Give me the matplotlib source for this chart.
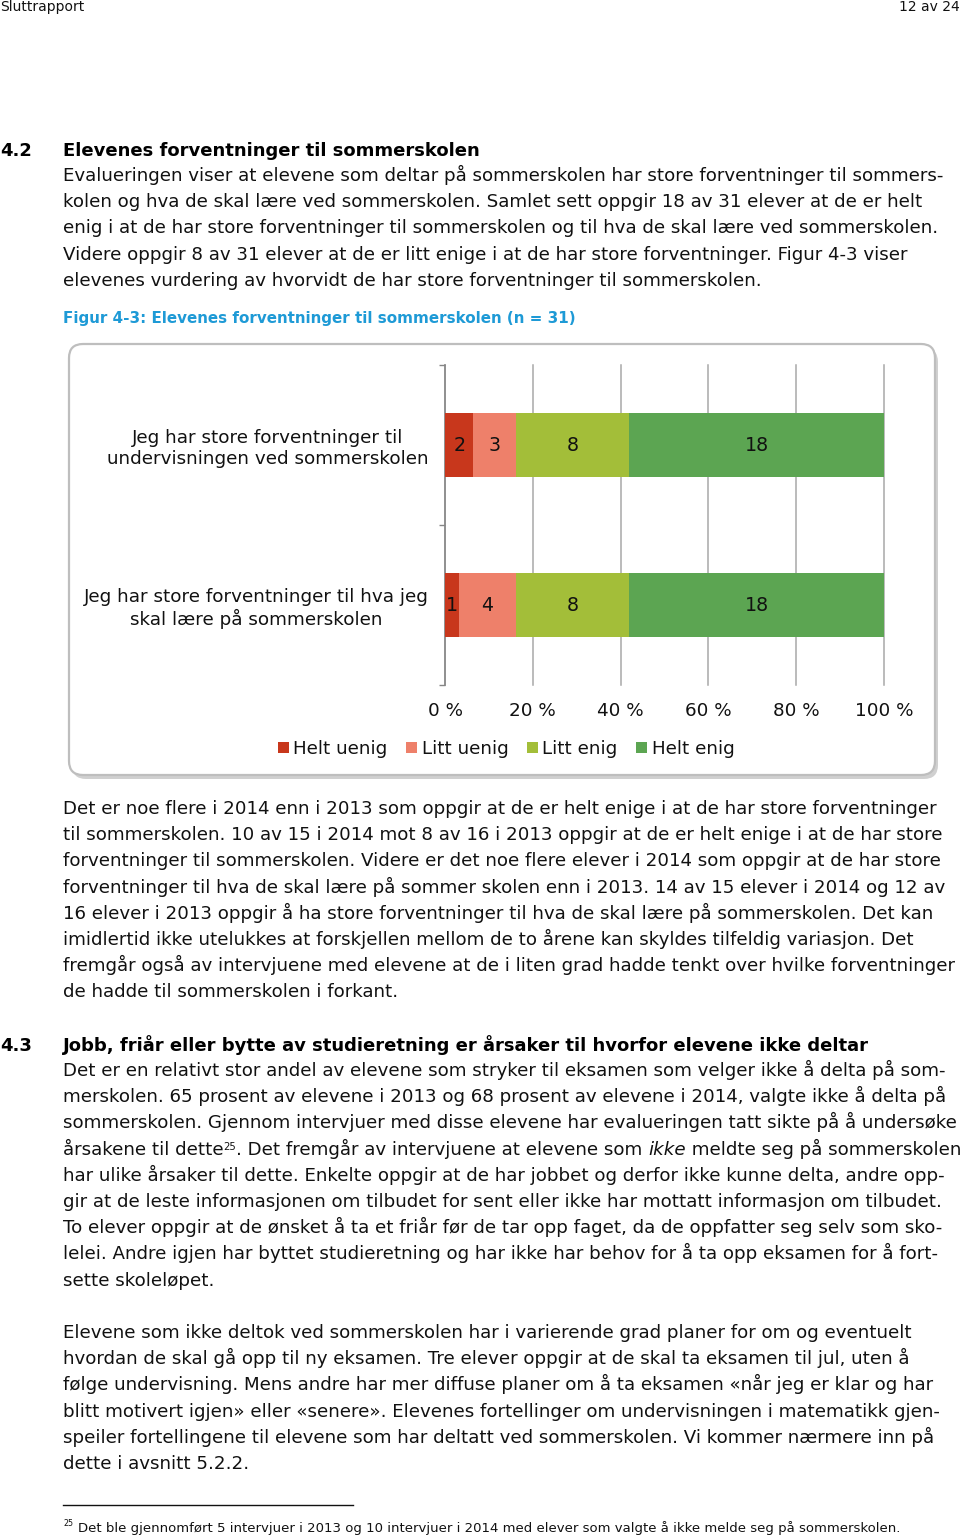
import numpy as np
import matplotlib.pyplot as plt
from matplotlib.patches import FancyBboxPatch

# --- chart data ---
categories = ['Jeg har store forventninger til\nundervisningen ved sommerskolen',
              'Jeg har store forventninger til hva jeg\nskal lære på sommerskolen']
series = ['Helt uenig', 'Litt uenig', 'Litt enig', 'Helt enig']
helt_uenig = [2, 1]
litt_uenig = [3, 4]
litt_enig = [8, 8]
helt_enig = [18, 18]
colors = ['#C8371C', '#EE806A', '#A3BE39', '#5CA552']
xticks = [0, 20, 40, 60, 80, 100]
xlabels = ['0 %', '20 %', '40 %', '60 %', '80 %', '100 %']

# --- page text ---
header_left = 'Sluttrapport'
header_right = '12 av 24'
h42 = ('4.2', 'Elevenes forventninger til sommerskolen')
para1 = [
    'Evalueringen viser at elevene som deltar på sommerskolen har store forventninger til sommers-',
    'kolen og hva de skal lære ved sommerskolen. Samlet sett oppgir 18 av 31 elever at de er helt',
    'enig i at de har store forventninger til sommerskolen og til hva de skal lære ved sommerskolen.',
    'Videre oppgir 8 av 31 elever at de er litt enige i at de har store forventninger. Figur 4-3 viser',
    'elevenes vurdering av hvorvidt de har store forventninger til sommerskolen.',
]
caption = 'Figur 4-3: Elevenes forventninger til sommerskolen (n = 31)'
para2 = [
    'Det er noe flere i 2014 enn i 2013 som oppgir at de er helt enige i at de har store forventninger',
    'til sommerskolen. 10 av 15 i 2014 mot 8 av 16 i 2013 oppgir at de er helt enige i at de har store',
    'forventninger til sommerskolen. Videre er det noe flere elever i 2014 som oppgir at de har store',
    'forventninger til hva de skal lære på sommer skolen enn i 2013. 14 av 15 elever i 2014 og 12 av',
    '16 elever i 2013 oppgir å ha store forventninger til hva de skal lære på sommerskolen. Det kan',
    'imidlertid ikke utelukkes at forskjellen mellom de to årene kan skyldes tilfeldig variasjon. Det',
    'fremgår også av intervjuene med elevene at de i liten grad hadde tenkt over hvilke forventninger',
    'de hadde til sommerskolen i forkant.',
]
h43 = ('4.3', 'Jobb, friår eller bytte av studieretning er årsaker til hvorfor elevene ikke deltar')
para3 = [
    'Det er en relativt stor andel av elevene som stryker til eksamen som velger ikke å delta på som-',
    'merskolen. 65 prosent av elevene i 2013 og 68 prosent av elevene i 2014, valgte ikke å delta på',
    'sommerskolen. Gjennom intervjuer med disse elevene har evalueringen tatt sikte på å undersøke',
    None,
    'har ulike årsaker til dette. Enkelte oppgir at de har jobbet og derfor ikke kunne delta, andre opp-',
    'gir at de leste informasjonen om tilbudet for sent eller ikke har mottatt informasjon om tilbudet.',
    'To elever oppgir at de ønsket å ta et friår før de tar opp faget, da de oppfatter seg selv som sko-',
    'lelei. Andre igjen har byttet studieretning og har ikke har behov for å ta opp eksamen for å fort-',
    'sette skoleløpet.',
]
para3_mixed = [('årsakene til dette', 'n'), ('25', 's'),
               ('. Det fremgår av intervjuene at elevene som ', 'n'),
               ('ikke', 'i'), (' meldte seg på sommerskolen', 'n')]
para4 = [
    'Elevene som ikke deltok ved sommerskolen har i varierende grad planer for om og eventuelt',
    'hvordan de skal gå opp til ny eksamen. Tre elever oppgir at de skal ta eksamen til jul, uten å',
    'følge undervisning. Mens andre har mer diffuse planer om å ta eksamen «når jeg er klar og har',
    'blitt motivert igjen» eller «senere». Elevenes fortellinger om undervisningen i matematikk gjen-',
    'speiler fortellingene til elevene som har deltatt ved sommerskolen. Vi kommer nærmere inn på',
    'dette i avsnitt 5.2.2.',
]
footnote = 'Det ble gjennomført 5 intervjuer i 2013 og 10 intervjuer i 2014 med elever som valgte å ikke melde seg på sommerskolen.'

W, H = 960, 1537
fig = plt.figure(figsize=(W / 100, H / 100), dpi=100)
bg = fig.add_axes([0, 0, 1, 1])
bg.set_xlim(0, W)
bg.set_ylim(H, 0)
bg.axis('off')
r = fig.canvas.get_renderer()

plt.rcParams['font.family'] = 'DejaVu Sans'


def fit_size(text, target, weight='normal', base=10.0):
    t = bg.text(0, 100, text, fontsize=base, fontweight=weight)
    w = t.get_window_extent(renderer=r).width
    t.remove()
    return base * target / w


fs_body = fit_size(para1[0], 882)
fs_head = fit_size(h42[1], 418, 'bold')
fs_cap = fit_size(caption, 515, 'bold')
fs_foot = fit_size(footnote, 815)
fs_hdr = fit_size(header_left, 84)
fs_chart = fit_size('Jeg har store forventninger til', 272)

TX = 63


def lines(ls, y0, step=26.2):
    for i, s in enumerate(ls):
        if s is not None:
            bg.text(TX, y0 + i * step + 5, s, fontsize=fs_body, va='baseline', color='#111111')


def runs(x, y, parts):
    for s, kind in parts:
        if kind == 's':
            t = bg.text(x, y - 5, s, fontsize=fs_body * 0.55, va='baseline', color='#111111')
        elif kind == 'i':
            t = bg.text(x, y, s, fontsize=fs_body, va='baseline', style='italic', color='#111111')
        else:
            t = bg.text(x, y, s, fontsize=fs_body, va='baseline', color='#111111')
        x += t.get_window_extent(renderer=r).width


# header
bg.text(0, 7, header_left, fontsize=fs_hdr, va='center', color='#111111')
bg.text(W, 7, header_right, fontsize=fs_hdr, va='center', ha='right', color='#111111')

# section 4.2
bg.text(0, 156, h42[0], fontsize=fs_head, fontweight='bold', va='baseline')
bg.text(TX, 156, h42[1], fontsize=fs_head, fontweight='bold', va='baseline')
lines(para1, 176)
bg.text(TX, 323, caption, fontsize=fs_cap, fontweight='bold', va='baseline', color='#1E9AD6')

# chart frame with shadow
bg.add_patch(FancyBboxPatch((72, 348), 866, 431, boxstyle='round,pad=0,rounding_size=14',
                            fc='#D0D0D0', ec='none', zorder=1))
bg.add_patch(FancyBboxPatch((69, 344), 866, 431, boxstyle='round,pad=0,rounding_size=14',
                            fc='white', ec='#BEBEBE', lw=1.6, zorder=2))

# chart axes
x0, x1, y_top, y_bot = 445, 884, 365, 685
ax = fig.add_axes([x0 / W, 1 - y_bot / H, (x1 - x0) / W, (y_bot - y_top) / H])
ax.set_facecolor('none')
ypos = np.array([1, 0])
data = [helt_uenig, litt_uenig, litt_enig, helt_enig]
totals = np.sum(data, axis=0)
left = np.zeros(2)
for name, vals, c in zip(series, data, colors):
    vals = np.array(vals)
    pct = vals / totals * 100
    bars = ax.barh(ypos, pct, left=left, height=0.4, color=c, label=name, zorder=3)
    ax.bar_label(bars, labels=[str(v) for v in vals], label_type='center',
                 fontsize=fs_chart * 1.03, color='#111111')
    left += pct

ax.set_xlim(0, 100)
ax.set_ylim(-0.5, 1.5)
ax.set_xticks(xticks)
ax.set_xticklabels(xlabels, fontsize=fs_chart, color='#111111')
ax.tick_params(axis='x', length=0, pad=12)
ax.xaxis.grid(True, color='#A8A8A8', lw=1.1)
for gl in ax.get_xgridlines():
    gl.set_clip_on(False)
ax.set_axisbelow(True)
ax.set_yticks([-0.5, 0.5, 1.5])
ax.set_yticklabels([])
ax.tick_params(axis='y', which='major', length=4, color='#868686', width=1)
ax.set_yticks(ypos, minor=True)
ax.set_yticklabels(categories, minor=True, fontsize=fs_chart, color='#111111')
ax.tick_params(axis='y', which='minor', length=0, pad=12)
for lab in ax.get_yticklabels(minor=True):
    lab.set_multialignment('center')
for s in ['top', 'right', 'bottom']:
    ax.spines[s].set_visible(False)
ax.spines['left'].set_color('#868686')
ax.spines['left'].set_linewidth(1.1)

fig.legend(loc='center', bbox_to_anchor=(506 / W, 1 - 749 / H), ncol=4, frameon=False,
           fontsize=fs_chart, handlelength=0.6, handleheight=0.6, handletextpad=0.25,
           columnspacing=1.0, labelcolor='#111111')

# after chart
lines(para2, 809)
bg.text(0, 1051, h43[0], fontsize=fs_head, fontweight='bold', va='baseline')
bg.text(TX, 1051, h43[1], fontsize=fs_head, fontweight='bold', va='baseline')
lines(para3, 1071)
runs(TX, 1071 + 3 * 26.2 + 5, para3_mixed)
lines(para4, 1333)

# footnote
bg.plot([63, 353], [1505, 1505], color='#111111', lw=1)
bg.text(63, 1526, '25', fontsize=fs_foot * 0.6, va='baseline', color='#111111')
bg.text(78, 1532, footnote, fontsize=fs_foot, va='baseline', color='#111111')

fig.savefig('out.png', dpi=100, facecolor='white')
